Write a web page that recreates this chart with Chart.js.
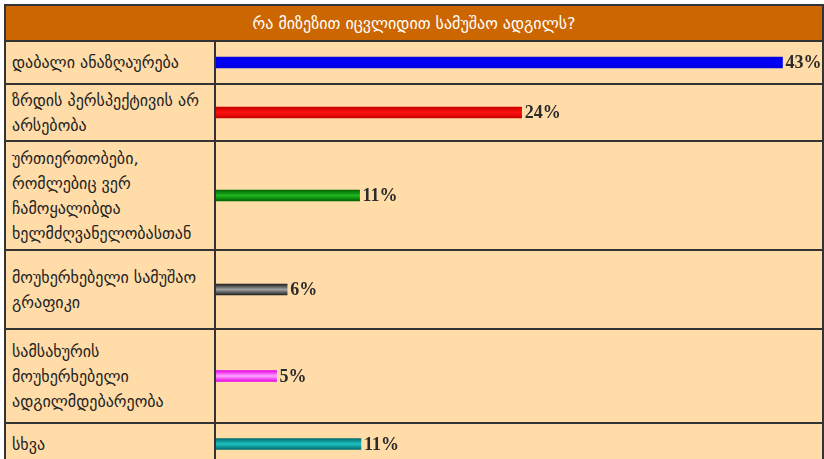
<!DOCTYPE html>
<html lang="ka">
<head>
<meta charset="UTF-8">
<title>რა მიზეზით იცვლიდით სამუშაო ადგილს?</title>
<script src="https://cdn.jsdelivr.net/npm/chart.js@4.4.1/dist/chart.umd.min.js"></script>
<style>
    body { margin: 0; background: #fff; font-family: "DejaVu Sans", sans-serif; }
    #poll { position: absolute; left: 4px; top: 4px; width: 816px; border: 2px solid #333; background: #FFDCA8; }
    #poll .head { height: 34px; background: #CC6600; color: #fff; font-size: 16px;
                  display: flex; align-items: center; justify-content: center; }
    .row { display: flex; border-top: 2px solid #333; }
    .row .lbl { width: 202px; padding-left: 6px; border-right: 2px solid #333; display: flex;
                align-items: center; font-size: 16px; line-height: 25px; color: #222; white-space: nowrap; }
    .row .bar { flex: 1; position: relative; }
    .row canvas { display: block; }
    /* row heights of the original table */
    .row:nth-child(2) { height: 41px; }
    .row:nth-child(3) { height: 55px; }
    .row:nth-child(4) { height: 107px; }
    .row:nth-child(5) { height: 77px; }
    .row:nth-child(6) { height: 92px; }
    .row:nth-child(7) { height: 40px; }
</style>
</head>
<body>
<div id="poll">
    <div class="head"></div>
</div>

<script>
    var title = 'რა მიზეზით იცვლიდით სამუშაო ადგილს?';

    // answers (each inner array = lines of the label)
    var categories = [
        ['დაბალი ანაზღაურება'],
        ['ზრდის პერსპექტივის არ', 'არსებობა'],
        ['ურთიერთობები,', 'რომლებიც ვერ', 'ჩამოყალიბდა', 'ხელმძღვანელობასთან'],
        ['მოუხერხებელი სამუშაო', 'გრაფიკი'],
        ['სამსახურის', 'მოუხერხებელი', 'ადგილმდებარეობა'],
        ['სხვა']
    ];
    // bar lengths
    var barValues = [43, 23.2, 10.9, 5.4, 4.6, 11];
    // percentages printed next to the bars
    var pctLabels = ['43%', '24%', '11%', '6%', '5%', '11%'];

    // [edge, middle] colours of each bar
    var palette = [
        ['#0000DD', '#0000FF'],
        ['#C80000', '#FF1010'],
        ['#006400', '#1FB81F'],
        ['#222222', '#A0A0A0'],
        ['#E800E8', '#FFA8FF'],
        ['#006B6B', '#20C2C2']
    ];

    var poll = document.getElementById('poll');
    poll.querySelector('.head').textContent = title;

    function barFill(i) {
        return function (context) {
            var chart = context.chart;
            var area = chart.chartArea;
            if (!area) return palette[i][0];
            var cy = (area.top + area.bottom) / 2;
            var g = chart.ctx.createLinearGradient(0, cy - 5.5, 0, cy + 5.5);
            g.addColorStop(0, palette[i][0]);
            g.addColorStop(0.5, palette[i][1]);
            g.addColorStop(1, palette[i][0]);
            return g;
        };
    }

    var valueLabel = {
        id: 'valueLabel',
        afterDatasetsDraw: function (chart, args, opts) {
            var bar = chart.getDatasetMeta(0).data[0];
            var ctx = chart.ctx;
            ctx.save();
            ctx.font = 'bold 18px "Liberation Serif", serif';
            ctx.fillStyle = '#2b2b2b';
            ctx.textBaseline = 'middle';
            ctx.fillText(opts.text, bar.x + 3, bar.y + 1);
            ctx.restore();
        }
    };

    categories.forEach(function (lines, i) {
        var row = document.createElement('div');
        row.className = 'row';
        var lbl = document.createElement('div');
        lbl.className = 'lbl';
        lbl.innerHTML = '<div>' + lines.join('<br>') + '</div>';
        var cell = document.createElement('div');
        cell.className = 'bar';
        var canvas = document.createElement('canvas');
        cell.appendChild(canvas);
        row.appendChild(lbl);
        row.appendChild(cell);
        poll.appendChild(row);

        canvas.width = cell.clientWidth;
        canvas.height = cell.clientHeight;

        new Chart(canvas, {
            type: 'bar',
            data: {
                labels: [lines.join(' ')],
                datasets: [{
                    data: [barValues[i]],
                    backgroundColor: barFill(i),
                    borderWidth: 0,
                    barThickness: 11
                }]
            },
            options: {
                indexAxis: 'y',
                responsive: false,
                animation: false,
                layout: { padding: 0 },
                scales: {
                    x: { display: false, min: 0, max: 46 },
                    y: { display: false }
                },
                plugins: {
                    legend: { display: false },
                    tooltip: { enabled: false },
                    valueLabel: { text: pctLabels[i] }
                }
            },
            plugins: [valueLabel]
        });
    });
</script>
</body>
</html>
